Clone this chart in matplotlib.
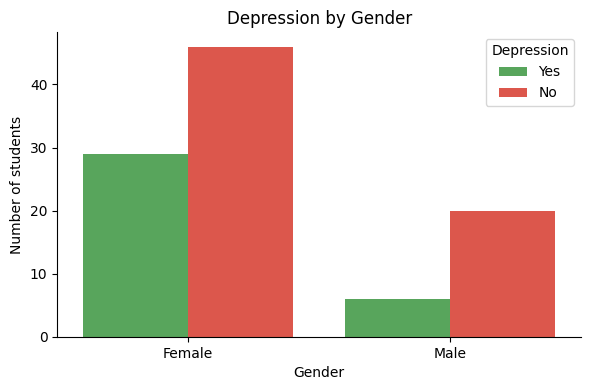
import numpy as np
import matplotlib
matplotlib.use("Agg")
import matplotlib.pyplot as plt

genders = ["Female", "Male"]
hue_levels = ["Yes", "No"]
counts_yes = [29, 6]
counts_no = [46, 20]
colors = {"Yes": "#58a55c", "No": "#dc574c"}

fig, ax = plt.subplots(figsize=(5.9, 3.9), dpi=100)
x = np.arange(len(genders))
w = 0.4
ax.bar(x - w/2, counts_yes, w, color=colors["Yes"], label="Yes")
ax.bar(x + w/2, counts_no, w, color=colors["No"], label="No")

ax.set_xticks(x, genders)
ax.set_xlim(-0.5, 1.5)
ax.set_xlabel("Gender")
ax.set_ylabel("Number of students")
ax.set_title("Depression by Gender")
ax.spines["top"].set_visible(False)
ax.spines["right"].set_visible(False)
ax.legend(title="Depression", loc="upper right")
fig.subplots_adjust(left=0.097, right=0.985, top=0.918, bottom=0.136)
fig.savefig("out.png", dpi=100)
